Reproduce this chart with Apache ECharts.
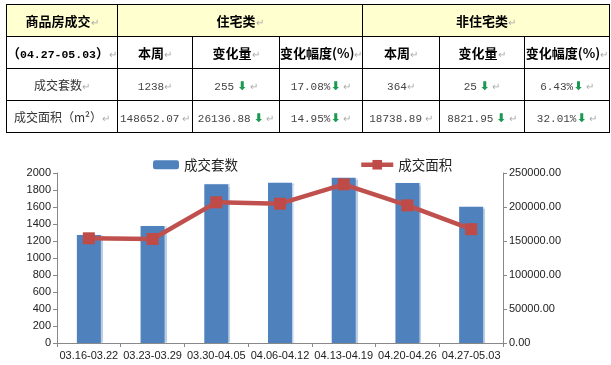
<!DOCTYPE html>
<html><head><meta charset="utf-8">
<script src="https://cdn.jsdelivr.net/npm/echarts@6/dist/echarts.min.js"></script>
<style>
html,body{margin:0;padding:0;background:#fff;width:611px;height:365px;overflow:hidden}
#chart{position:absolute;left:0;top:0;width:611px;height:365px}
table{position:absolute;left:6px;top:4px;border-collapse:collapse;table-layout:fixed;width:603px;
 font-family:"Noto Sans CJK SC",sans-serif;font-size:12px;color:#333}
td{border:1px solid #000;height:31px;padding:0;text-align:center;white-space:nowrap;overflow:hidden;box-sizing:border-box}
td.h{font-weight:bold;color:#000;font-size:13px}
tr.y td{background:#FFFFD0}
.n{font-family:"Liberation Mono",monospace;font-size:11px;color:#444}
.r{color:#aaa;font-size:10px;font-weight:normal}
.a{color:#1a9a50;font-weight:bold;font-size:12px;font-family:"DejaVu Sans"}
</style></head>
<body>
<div id="chart"></div>
<table>
<colgroup><col style="width:111px"><col style="width:75px"><col style="width:87px"><col style="width:83px"><col style="width:77px"><col style="width:85px"><col style="width:85px"></colgroup>
<tr class="y" style="height:32px"><td class="h">商品房成交<span class="r">↵</span></td><td class="h" colspan="3">住宅类<span class="r">↵</span></td><td class="h" colspan="3">非住宅类<span class="r">↵</span></td></tr>
<tr style="height:32px"><td class="h">（<span class="n" style="font-weight:bold;font-size:11.5px;color:#000">04.27-05.03</span>）<span class="r">↵</span></td><td class="h">本周<span class="r">↵</span></td><td class="h">变化量<span class="r">↵</span></td><td class="h">变化幅度(%)<span class="r">↵</span></td><td class="h">本周<span class="r">↵</span></td><td class="h">变化量<span class="r">↵</span></td><td class="h">变化幅度(%)<span class="r">↵</span></td></tr>
<tr style="height:32px"><td>成交套数<span class="r">↵</span></td><td><span class="n">1238</span><span class="r">↵</span></td><td><span class="n">255</span> <span class="a">⬇</span> <span class="r">↵</span></td><td><span class="n">17.08%</span><span class="a">⬇</span> <span class="r">↵</span></td><td><span class="n">364</span><span class="r">↵</span></td><td><span class="n">25</span> <span class="a">⬇</span> <span class="r">↵</span></td><td><span class="n">6.43%</span><span class="a">⬇</span> <span class="r">↵</span></td></tr>
<tr style="height:32px"><td>成交面积（m²）<span class="r">↵</span></td><td><span class="n">148652.07</span> <span class="r">↵</span></td><td><span class="n">26136.88</span> <span class="a">⬇</span> <span class="r">↵</span></td><td><span class="n">14.95%</span><span class="a">⬇</span> <span class="r">↵</span></td><td><span class="n">18738.89</span> <span class="r">↵</span></td><td><span class="n">8821.95</span> <span class="a">⬇</span> <span class="r">↵</span></td><td><span class="n">32.01%</span><span class="a">⬇</span> <span class="r">↵</span></td></tr>
</table>
<script>
const categories = ["03.16-03.22","03.23-03.29","03.30-04.05","04.06-04.12","04.13-04.19","04.20-04.26","04.27-05.03"];
const units = [1270, 1376, 1867, 1886, 1945, 1882, 1602];
const area = [153970, 152940, 206860, 204850, 233330, 202350, 167391];
const leftTicks = {min:0, max:2000, interval:200};
const rightTicks = {min:0, max:250000, interval:50000};

const chart = echarts.init(document.getElementById('chart'), null, {renderer:'canvas'});
const axisFont = {fontFamily:'Liberation Sans', fontSize:11, color:'#222'};
const axisLine = {show:true, lineStyle:{color:'#888', width:1}};
chart.setOption({
  animation:false,
  legend:[
    {data:['成交套数'], left:148, top:153, itemWidth:26, itemHeight:9, itemGap:0,
     textStyle:{fontFamily:'Noto Sans CJK SC', fontSize:13.5, color:'#222'}},
    {data:[{name:'成交面积', lineStyle:{width:4.5}}], left:354, top:153, itemWidth:32, itemHeight:12, itemGap:0,
     textStyle:{fontFamily:'Noto Sans CJK SC', fontSize:13.5, color:'#222'}}
  ],
  grid:{left:57, right:108, top:173, bottom:22, containLabel:false},
  xAxis:{type:'category', data:categories, boundaryGap:true,
    axisLine:axisLine, axisTick:{show:true, length:4, lineStyle:{color:'#888'}},
    axisLabel:Object.assign({margin:7, interval:0}, axisFont), splitLine:{show:false}},
  yAxis:[
    Object.assign({type:'value', position:'left', axisLine:axisLine,
      axisTick:{show:true, length:4, lineStyle:{color:'#888'}},
      axisLabel:Object.assign({margin:6, formatter:v=>String(v)}, axisFont), splitLine:{show:false}}, leftTicks),
    Object.assign({type:'value', position:'right', axisLine:axisLine,
      axisTick:{show:true, length:4, lineStyle:{color:'#888'}},
      axisLabel:Object.assign({margin:6, formatter:v=>v.toFixed(2)}, axisFont), splitLine:{show:false}}, rightTicks)
  ],
  series:[
    {name:'成交套数', type:'bar', data:units, barWidth:24, yAxisIndex:0,
     itemStyle:{color:'#4F81BD', shadowColor:'rgba(160,185,220,0.7)', shadowOffsetX:2, shadowOffsetY:0, shadowBlur:1}},
    {name:'成交面积', type:'line', data:area, yAxisIndex:1, symbol:'rect', symbolSize:12,
     lineStyle:{color:'#C0504D', width:4.5}, itemStyle:{color:'#BE4B48'}}
  ]
});
</script>
</body></html>
